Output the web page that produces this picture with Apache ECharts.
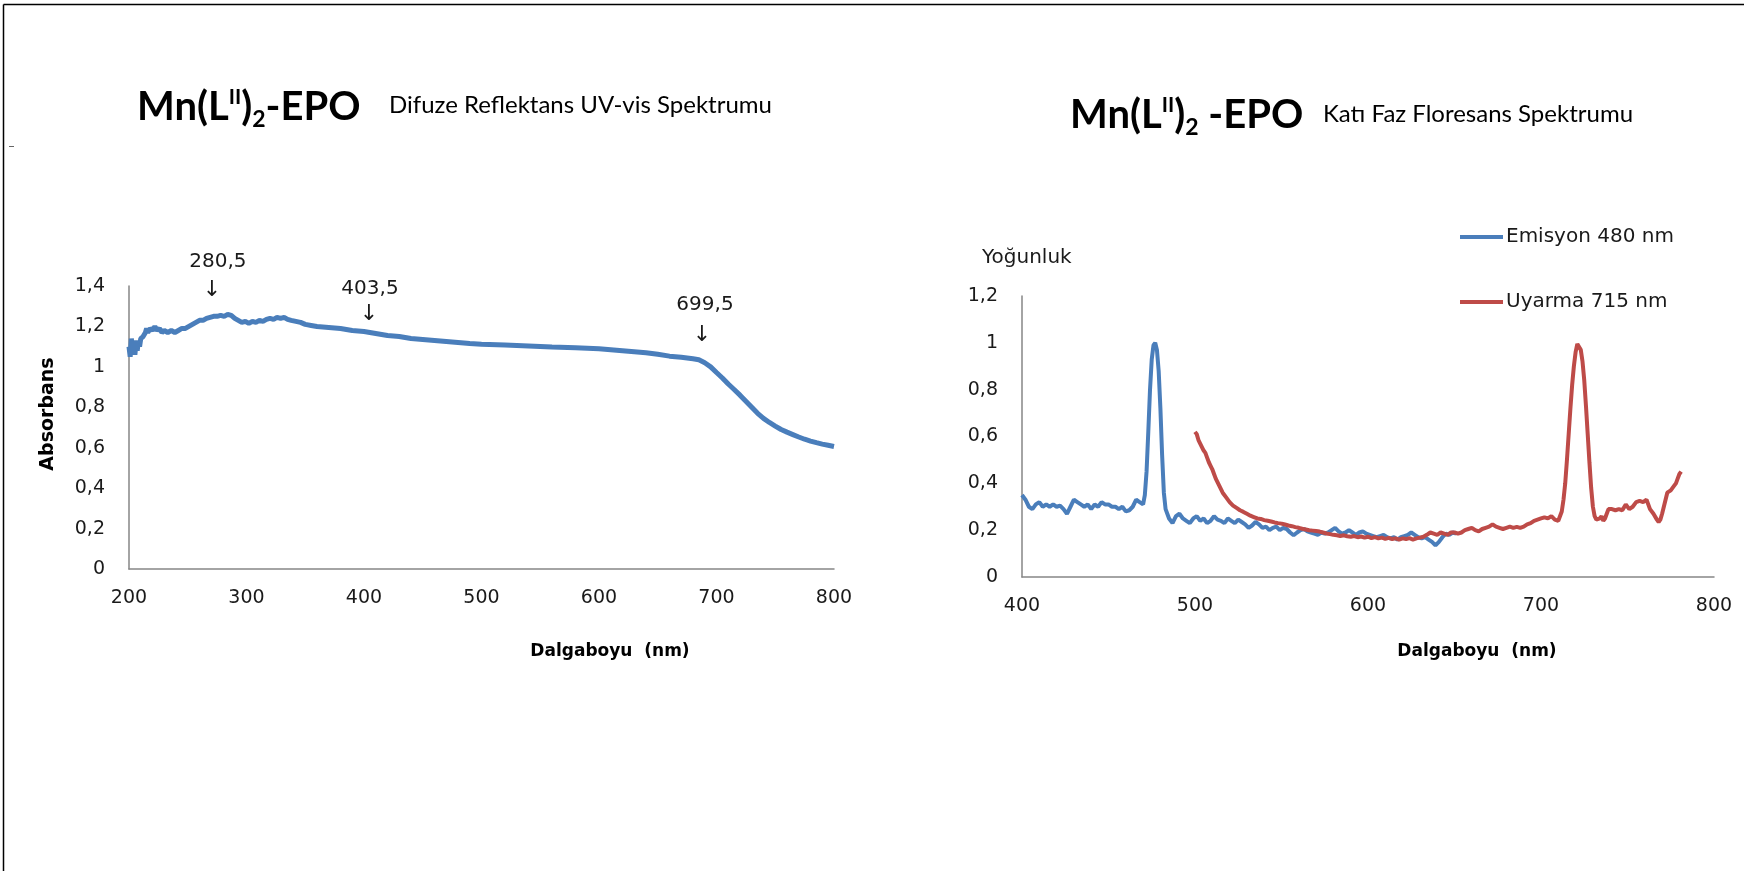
<!DOCTYPE html>
<html>
<head>
<meta charset="utf-8">
<script src="https://cdn.jsdelivr.net/npm/echarts@6/dist/echarts.min.js"></script>
<style>
html,body{margin:0;padding:0;background:#fff;}
#c{width:1744px;height:871px;}
</style>
</head>
<body>
<div id="c"></div>
<script>
// ---- Left chart: diffuse reflectance UV-vis ----
const uvX = [200,201,202,203,204,205,206,207,208,209,210,212,214,215,216,218,220,222,224,226,228,230,233,236,239,242,245,248,251,254,257,260,263,266,269,272,275,278,281,284,287,290,293,296,299,302,305,308,311,314,317,320,323,326,329,332,335,338,342,346,350,355,360,370,380,390,400,410,420,430,440,450,460,470,480,490,500,520,540,560,580,600,620,640,650,660,670,680,685,690,695,700,705,710,715,720,725,730,735,740,745,750,755,760,765,770,775,780,785,790,795,800];
const uvY = [1.10,1.05,1.14,1.07,1.13,1.06,1.12,1.08,1.13,1.10,1.14,1.15,1.17,1.19,1.17,1.19,1.18,1.20,1.18,1.19,1.17,1.18,1.17,1.18,1.17,1.18,1.19,1.19,1.20,1.21,1.22,1.23,1.23,1.24,1.245,1.25,1.25,1.255,1.25,1.26,1.255,1.24,1.23,1.22,1.225,1.215,1.225,1.22,1.23,1.225,1.235,1.24,1.235,1.245,1.24,1.245,1.235,1.23,1.225,1.22,1.21,1.205,1.20,1.195,1.19,1.18,1.175,1.165,1.155,1.15,1.14,1.135,1.13,1.125,1.12,1.115,1.112,1.108,1.103,1.098,1.094,1.09,1.08,1.07,1.062,1.053,1.047,1.04,1.035,1.02,1.0,0.972,0.945,0.915,0.888,0.86,0.83,0.80,0.77,0.745,0.725,0.707,0.69,0.677,0.665,0.653,0.642,0.633,0.625,0.618,0.612,0.606];
const uvTicksX = [200,300,400,500,600,700,800];
const uvTicksY = [0,0.2,0.4,0.6,0.8,1,1.2,1.4];
const peakLabels = ['280,5','403,5','699,5'];
const peakTextPos = [[275.7,1.519],[405.1,1.385],[690.2,1.306]];
const peakArrowPos = [[270.6,1.380],[404.3,1.261],[687.7,1.158]];

// ---- Right chart: solid-phase fluorescence ----
const emX = [400,402,404,406,408,410,412,414,416,418,420,422,424,426,428,430,432,434,436,438,440,442,444,446,448,450,452,454,456,458,460,462,464,466,468,470,471,472,473,474,475,476,477,478,479,480,481,482,483,485,487,489,491,493,495,497,499,501,503,505,507,509,511,513,515,517,519,521,523,525,527,529,531,533,535,537,539,541,543,545,547,549,551,553,555,557,559,561,563,565,567,569,571,573,575,577,579,581,583,585,587,589,591,593,595,597,599,601,603,605,607,609,611,613,615,617,619,621,623,625,627,629,631,633,635,637,639,641,643,645,647,649,651];
const emY = [0.35,0.33,0.30,0.29,0.31,0.32,0.30,0.31,0.30,0.31,0.30,0.305,0.29,0.27,0.30,0.33,0.32,0.31,0.30,0.31,0.29,0.31,0.30,0.32,0.31,0.31,0.30,0.30,0.29,0.30,0.28,0.285,0.30,0.33,0.32,0.31,0.35,0.45,0.62,0.80,0.93,0.99,1.0,0.97,0.88,0.72,0.52,0.36,0.29,0.25,0.23,0.26,0.27,0.25,0.24,0.23,0.25,0.26,0.24,0.25,0.23,0.24,0.26,0.245,0.24,0.23,0.25,0.24,0.23,0.245,0.235,0.225,0.21,0.22,0.235,0.225,0.21,0.215,0.20,0.21,0.215,0.20,0.21,0.205,0.19,0.178,0.19,0.20,0.205,0.195,0.19,0.185,0.18,0.19,0.185,0.19,0.20,0.21,0.195,0.185,0.19,0.20,0.19,0.18,0.19,0.195,0.185,0.18,0.175,0.17,0.175,0.18,0.17,0.165,0.17,0.16,0.17,0.175,0.18,0.19,0.18,0.17,0.165,0.17,0.16,0.15,0.135,0.15,0.17,0.185,0.18,0.19,0.185];
const exX = [500,501,502,503,504,505,506,507,508,509,510,511,512,513,514,515,516,518,520,522,524,526,528,530,532,534,536,538,540,542,544,546,548,550,552,554,556,558,560,562,564,566,568,570,572,574,576,578,580,582,584,586,588,590,592,594,596,598,600,602,604,606,608,610,612,614,616,618,620,622,624,626,628,630,632,634,636,638,640,642,644,646,648,650,652,654,656,658,660,662,664,666,668,670,672,674,676,678,680,682,684,686,688,690,692,694,696,698,700,702,704,706,708,710,712,713,714,715,716,717,718,719,720,721,722,723,724,725,726,727,728,729,730,731,732,733,734,735,736,737,738,739,741,743,745,747,749,751,753,755,757,759,761,762,763,765,767,768,769,770,771,772,773,775,777,778,779,780,781];
const exY = [0.62,0.61,0.585,0.57,0.555,0.54,0.53,0.51,0.49,0.475,0.46,0.44,0.42,0.405,0.39,0.375,0.36,0.34,0.32,0.305,0.295,0.285,0.278,0.27,0.262,0.256,0.25,0.248,0.243,0.24,0.237,0.233,0.23,0.228,0.224,0.22,0.217,0.213,0.21,0.206,0.203,0.2,0.198,0.196,0.194,0.19,0.186,0.183,0.18,0.178,0.175,0.178,0.174,0.172,0.175,0.17,0.173,0.168,0.172,0.166,0.17,0.165,0.168,0.163,0.167,0.162,0.165,0.16,0.165,0.162,0.166,0.16,0.165,0.168,0.172,0.18,0.19,0.185,0.18,0.19,0.185,0.18,0.19,0.19,0.185,0.19,0.2,0.205,0.21,0.2,0.195,0.205,0.21,0.215,0.225,0.215,0.21,0.205,0.21,0.215,0.21,0.214,0.21,0.215,0.225,0.23,0.24,0.245,0.25,0.255,0.25,0.26,0.245,0.24,0.28,0.33,0.40,0.50,0.61,0.72,0.82,0.90,0.96,0.995,1.0,0.97,0.92,0.84,0.73,0.61,0.49,0.38,0.30,0.26,0.245,0.24,0.25,0.26,0.24,0.25,0.27,0.29,0.29,0.285,0.29,0.285,0.31,0.29,0.30,0.32,0.325,0.32,0.33,0.31,0.29,0.27,0.245,0.235,0.245,0.27,0.30,0.33,0.36,0.37,0.39,0.40,0.42,0.44,0.45];
const flTicksX = [400,500,600,700,800];
const flTicksY = [0,0.2,0.4,0.6,0.8,1,1.2];
const seriesNames = ['Emisyon 480 nm','Uyarma 715 nm'];

const zip = (xs, ys) => xs.map((x, i) => [x, ys[i]]);
const comma = v => String(+v.toFixed(2)).replace('.', ',');

const BLUE = '#4A7EBB', RED = '#BE4B48', AXIS = '#868686', TXT = '#1a1a1a';
const TICKFONT = 'DejaVu Sans';
const TITLEFONT = 'Lato';

function makeX(gi, min, max, ticks) {
  return {
    gridIndex: gi, type: 'value', min: min, max: max, interval: ticks[1] - ticks[0],
    axisLine: {show: true, lineStyle: {color: AXIS, width: 1.5}},
    axisTick: {show: false}, splitLine: {show: false},
    axisLabel: {color: TXT, fontFamily: TICKFONT, fontSize: 19, margin: 20, formatter: v => comma(v)}
  };
}
function makeY(gi, min, max, ticks) {
  return {
    gridIndex: gi, type: 'value', min: min, max: max, interval: +(ticks[1] - ticks[0]).toFixed(2),
    axisLine: {show: true, lineStyle: {color: AXIS, width: 1.5}},
    axisTick: {show: false}, splitLine: {show: false},
    axisLabel: {color: TXT, fontFamily: TICKFONT, fontSize: 19, margin: 24, formatter: v => comma(v)}
  };
}

const titleRich = {
  a: {fontFamily: TITLEFONT, fontWeight: 'bold', fontSize: 40, color: '#000', lineHeight: 48},
  sup: {fontFamily: TITLEFONT, fontWeight: 'bold', fontSize: 21, color: '#000', verticalAlign: 'top', lineHeight: 48, padding: [4,0,0,0]},
  sub: {fontFamily: TITLEFONT, fontWeight: 'bold', fontSize: 23, color: '#000', verticalAlign: 'bottom', lineHeight: 48}
};

const option = {
  animation: false,
  backgroundColor: '#fff',
  grid: [
    {left: 129, top: 286, width: 705, height: 283, containLabel: false},
    {left: 1022, top: 296, width: 692, height: 281, containLabel: false}
  ],
  xAxis: [makeX(0, 200, 800, uvTicksX), makeX(1, 400, 800, flTicksX)],
  yAxis: [makeY(0, 0, 1.4, uvTicksY), makeY(1, 0, 1.2, flTicksY)],
  legend: {
    data: seriesNames, orient: 'vertical', left: 1455, top: 222, itemGap: 45,
    itemWidth: 43, itemHeight: 4, icon: 'rect',
    textStyle: {fontFamily: TICKFONT, fontSize: 20, color: TXT, padding: [0,0,0,-2]}
  },
  series: [
    {type: 'line', name: 'Absorbans', xAxisIndex: 0, yAxisIndex: 0, data: zip(uvX, uvY),
     showSymbol: false, symbol: 'none', lineStyle: {color: BLUE, width: 5}, itemStyle: {color: BLUE}},
    {type: 'line', name: seriesNames[0], xAxisIndex: 1, yAxisIndex: 1, data: zip(emX, emY),
     showSymbol: false, symbol: 'none', lineStyle: {color: BLUE, width: 4}, itemStyle: {color: BLUE}},
    {type: 'line', name: seriesNames[1], xAxisIndex: 1, yAxisIndex: 1, data: zip(exX, exY),
     showSymbol: false, symbol: 'none', lineStyle: {color: RED, width: 4}, itemStyle: {color: RED}}
  ],
  graphic: [
    {id: 'ft', type: 'line', shape: {x1: 3.5, y1: 4.5, x2: 1744, y2: 4.5}, style: {stroke: '#000', lineWidth: 1.5}},
    {id: 'fl', type: 'line', shape: {x1: 3.5, y1: 4.5, x2: 3.5, y2: 871}, style: {stroke: '#000', lineWidth: 1.5}},
    {id: 'tk', type: 'line', shape: {x1: 9, y1: 146.5, x2: 14, y2: 146.5}, style: {stroke: '#666', lineWidth: 1}},
    {id: 't1', type: 'text', left: 137, top: 83, style: {text: '{a|Mn(L}{sup|II}{a|)}{sub|2}{a|-EPO}', rich: titleRich}},
    {id: 's1', type: 'text', left: 389, top: 93, style: {text: 'Difuze Reflektans UV-vis Spektrumu', fontFamily: TITLEFONT, fontSize: 24, fill: '#000'}},
    {id: 't2', type: 'text', left: 1070, top: 91, style: {text: '{a|Mn(L}{sup|II}{a|)}{sub|2}{a| -EPO}', rich: titleRich}},
    {id: 's2', type: 'text', left: 1323, top: 102, style: {text: 'Katı Faz Floresans Spektrumu', fontFamily: TITLEFONT, fontSize: 24, fill: '#000'}},
    {id: 'ya', type: 'text', x: 48, y: 414, rotation: Math.PI / 2, style: {text: 'Absorbans', fontFamily: TICKFONT, fontWeight: 'bold', fontSize: 19, fill: '#000', align: 'center', verticalAlign: 'middle'}},
    {id: 'x1', type: 'text', x: 610, y: 652, style: {text: 'Dalgaboyu  (nm)', fontFamily: TICKFONT, fontWeight: 'bold', fontSize: 17, fill: '#000', align: 'center', verticalAlign: 'middle'}},
    {id: 'x2', type: 'text', x: 1477, y: 652, style: {text: 'Dalgaboyu  (nm)', fontFamily: TICKFONT, fontWeight: 'bold', fontSize: 17, fill: '#000', align: 'center', verticalAlign: 'middle'}},
    {id: 'yl', type: 'text', x: 982, y: 258, style: {text: 'Yoğunluk', fontFamily: TICKFONT, fontSize: 20, fill: TXT, align: 'left', verticalAlign: 'middle'}}
  ]
};

const chart = echarts.init(document.getElementById('c'), null, {renderer: 'canvas'});
chart.setOption(option);

// Peak annotations placed through the left chart's own scales
const annotEls = [];
peakLabels.forEach((t, i) => {
  const p = chart.convertToPixel({gridIndex: 0}, peakTextPos[i]);
  const a = chart.convertToPixel({gridIndex: 0}, peakArrowPos[i]);
  annotEls.push({id: 'pt' + i, type: 'text', x: p[0], y: p[1], style: {text: t, fontFamily: TICKFONT, fontSize: 20, fill: TXT, align: 'center', verticalAlign: 'middle'}});
  annotEls.push({id: 'pa' + i, type: 'text', x: a[0], y: a[1], style: {text: '↓', fontFamily: TICKFONT, fontSize: 22, fill: TXT, align: 'center', verticalAlign: 'middle'}});
});
chart.setOption({graphic: annotEls});
</script>
</body>
</html>
